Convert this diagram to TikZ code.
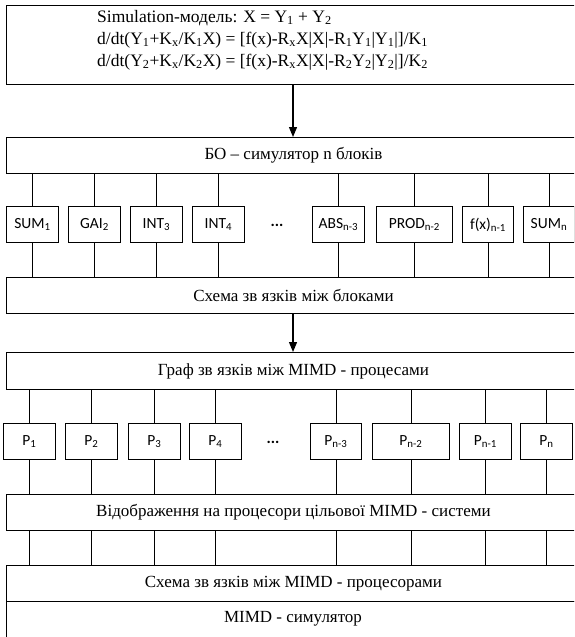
\documentclass[tikz,border=0pt]{standalone}
\usepackage{fontspec}
\setmainfont{Liberation Serif}
\newfontfamily\blkfont{Carlito}
\usetikzlibrary{arrows.meta}
\begin{document}
\begin{tikzpicture}[x=1pt,y=-1pt,
  wide/.style={draw, line width=0.9pt, minimum width=574pt, minimum height=36pt, inner sep=0pt, anchor=north west, font=\fontsize{17}{19}\selectfont},
  blk/.style={draw, line width=0.9pt, minimum height=36pt, inner sep=0pt, anchor=north west, font=\blkfont\fontsize{15.5}{17}\selectfont},
  dots/.style={font=\blkfont\fontsize{16}{17}\selectfont\bfseries, inner sep=0pt},
  wire/.style={line width=0.9pt},
  flow/.style={line width=1.2pt, -{Triangle[length=10pt,width=8pt]}}]
\useasboundingbox (0,0) rectangle (574,637);
\clip (0,0) rectangle (574,637);
\fill[white] (0,0) rectangle (574,637);
% top model box
\node[wide, minimum height=79pt] (model) at (6,5) {};
\node[anchor=west, align=left, inner sep=0pt, font=\fontsize{17.5}{22}\selectfont] (modeltext) at (97,40)
 {Simulation-модель: X = Y\textsubscript{1} + Y\textsubscript{2}\\
  d/dt(Y\textsubscript{1}+K\textsubscript{x}/K\textsubscript{1}X) = [f(x)-R\textsubscript{x}X|X|-R\textsubscript{1}Y\textsubscript{1}|Y\textsubscript{1}|]/K\textsubscript{1}\\
  d/dt(Y\textsubscript{2}+K\textsubscript{x}/K\textsubscript{2}X) = [f(x)-R\textsubscript{x}X|X|-R\textsubscript{2}Y\textsubscript{2}|Y\textsubscript{2}|]/K\textsubscript{2}};
% wide boxes
\node[wide] (bo) at (6,137) {БО – симулятор n блоків};
\node[wide] (scheme) at (6,277) {Схема зв язків між блоками};
\node[wide, minimum height=37pt] (graph) at (6,352) {Граф зв язків між MIMD - процесами};
\node[wide] (mapping) at (6,494) {Відображення на процесори цільової MIMD - системи};
\node[wide] (pscheme) at (6,565) {Схема зв язків між MIMD - процесорами};
\node[wide, minimum height=44pt] (sim) at (6,601) {};
\node[font=\fontsize{17}{19}\selectfont, inner sep=0pt] (simtext) at (293,619) {MIMD - симулятор};
% arrows
\coordinate (ax) at (293,0);
\draw[flow] (model.south -| ax) -- (bo.north -| ax);
\draw[flow] (scheme.south -| ax) -- (graph.north -| ax);
% row 1 blocks
\node[blk, minimum width=52pt] (b1) at (6,206) {SUM\textsubscript{1}};
\node[blk, minimum width=52pt] (b2) at (68,206) {GAI\textsubscript{2}};
\node[blk, minimum width=52pt] (b3) at (130,206) {INT\textsubscript{3}};
\node[blk, minimum width=52pt] (b4) at (192,206) {INT\textsubscript{4}};
\node[dots] (bdots) at (277,225) {...};
\node[blk, minimum width=52pt] (b5) at (312,206) {ABS\textsubscript{n-3}};
\node[blk, minimum width=76pt] (b6) at (376,206) {PROD\textsubscript{n-2}};
\node[blk, minimum width=51pt] (b7) at (462,206) {f(x)\textsubscript{n-1}};
\node[blk, minimum width=51pt] (b8) at (523,206) {SUM\textsubscript{n}};
\foreach \i in {1,...,8} {
  \draw[wire] (bo.south -| b\i.north) -- (b\i.north);
  \draw[wire] (b\i.south) -- (scheme.north -| b\i.south);
}
% row 2 processors
\node[blk, minimum width=52pt] (p1) at (3,423) {P\textsubscript{1}};
\node[blk, minimum width=52pt] (p2) at (65,423) {P\textsubscript{2}};
\node[blk, minimum width=52pt] (p3) at (128,423) {P\textsubscript{3}};
\node[blk, minimum width=52pt] (p4) at (189,423) {P\textsubscript{4}};
\node[dots] (pdots) at (273,442) {...};
\node[blk, minimum width=51pt] (p5) at (310,423) {P\textsubscript{n-3}};
\node[blk, minimum width=77pt] (p6) at (372,423) {P\textsubscript{n-2}};
\node[blk, minimum width=52pt] (p7) at (459,423) {P\textsubscript{n-1}};
\node[blk, minimum width=52pt] (p8) at (520,423) {P\textsubscript{n}};
\foreach \i in {1,...,8} {
  \draw[wire] (graph.south -| p\i.north) -- (p\i.north);
  \draw[wire] (p\i.south) -- (mapping.north -| p\i.south);
  \draw[wire] (mapping.south -| p\i.south) -- (pscheme.north -| p\i.south);
}
\end{tikzpicture}
\end{document}
